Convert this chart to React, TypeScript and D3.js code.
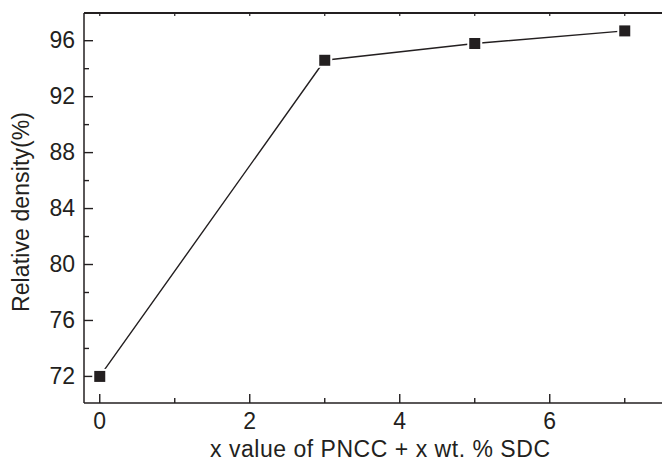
import React from "react";
import * as d3 from "d3";

const xValues = [0, 3, 5, 7];
const densityValues = [72.0, 94.6, 95.8, 96.7];
const yMajorTicks = [72, 76, 80, 84, 88, 92, 96];
const yMinorTicks = [74, 78, 82, 86, 90, 94, 98];
const xMajorTicks = [0, 2, 4, 6];
const xMinorTicks = [1, 3, 5, 7];
const xLabel = "x value of PNCC + x wt. % SDC";
const yLabel = "Relative density(%)";

const W = 662;
const H = 462;
const left = 84;
const right = 663;
const top = 13;
const bottom = 403;
const ink = "#231f20";
const font = "'Liberation Sans', Arial, Helvetica, sans-serif";

export default function App() {
  const x = d3.scaleLinear().domain([-0.21, 7.51]).range([left, right]);
  const y = d3.scaleLinear().domain([70.1, 97.98]).range([bottom, top]);
  const line = d3
    .line<number>()
    .x((_, i) => x(xValues[i]))
    .y((d) => y(d));
  const ms = 13;
  return (
    <svg
      width={W}
      height={H}
      style={{ position: "absolute", left: 0, top: 0, background: "#fff" }}
    >
      <rect x={0} y={0} width={W} height={H} fill="#fff" />
      <line x1={left} x2={right} y1={top} y2={top} stroke={ink} strokeWidth={2.2} />
      <line x1={left} x2={right} y1={bottom} y2={bottom} stroke={ink} strokeWidth={1.5} />
      <line x1={left} x2={left} y1={top} y2={bottom} stroke={ink} strokeWidth={1.5} />
      {yMajorTicks.map((t) => (
        <g key={"ym" + t}>
          <line x1={left} x2={left + 9} y1={y(t)} y2={y(t)} stroke={ink} strokeWidth={1.4} />
          <text
            x={left - 9}
            y={y(t)}
            dy="0.33em"
            textAnchor="end"
            fontFamily={font}
            fontSize={23}
            fill={ink}
          >
            {t}
          </text>
        </g>
      ))}
      {yMinorTicks.map((t) => (
        <line key={"yn" + t} x1={left} x2={left + 5} y1={y(t)} y2={y(t)} stroke={ink} strokeWidth={1.4} />
      ))}
      {xMajorTicks.map((t) => (
        <g key={"xm" + t}>
          <line x1={x(t)} x2={x(t)} y1={bottom} y2={bottom - 9} stroke={ink} strokeWidth={1.4} />
          <line x1={x(t)} x2={x(t)} y1={top} y2={top + 3} stroke={ink} strokeWidth={1.2} />
          <text
            x={x(t)}
            y={429}
            textAnchor="middle"
            fontFamily={font}
            fontSize={23}
            fill={ink}
          >
            {t}
          </text>
        </g>
      ))}
      {xMinorTicks.map((t) => (
        <g key={"xn" + t}>
          <line x1={x(t)} x2={x(t)} y1={bottom} y2={bottom - 5} stroke={ink} strokeWidth={1.4} />
          <line x1={x(t)} x2={x(t)} y1={top} y2={top + 3} stroke={ink} strokeWidth={1.2} />
        </g>
      ))}
      <text
        x={380}
        y={457}
        textAnchor="middle"
        fontFamily={font}
        fontSize={23}
        fill={ink}
        textLength={340}
        lengthAdjust="spacing"
      >
        {xLabel}
      </text>
      <text
        transform={`translate(29, 212) rotate(-90)`}
        textAnchor="middle"
        fontFamily={font}
        fontSize={23}
        fill={ink}
        textLength={200}
        lengthAdjust="spacing"
      >
        {yLabel}
      </text>
      <path d={line(densityValues) || ""} fill="none" stroke={ink} strokeWidth={1.4} />
      {densityValues.map((v, i) => (
        <rect
          key={"m" + i}
          x={x(xValues[i]) - ms / 2}
          y={y(v) - ms / 2}
          width={ms}
          height={ms}
          fill={ink}
          stroke="#fff"
          strokeWidth={2}
        />
      ))}
    </svg>
  );
}
